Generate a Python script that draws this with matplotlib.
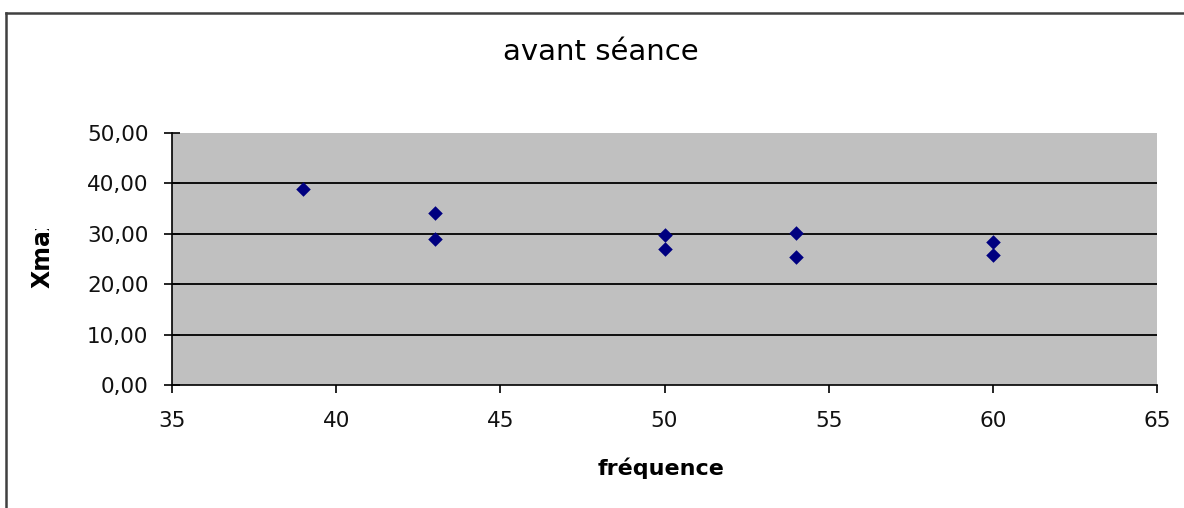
import matplotlib
matplotlib.use("Agg")
import matplotlib.pyplot as plt
from matplotlib.lines import Line2D
from matplotlib.transforms import Bbox, TransformedBbox
from matplotlib.ticker import FuncFormatter, MultipleLocator

# Data
frequence = [39, 43, 43, 50, 50, 54, 54, 60, 60]
xmax = [38.8, 34.1, 28.9, 29.8, 26.9, 30.1, 25.3, 28.4, 25.8]
title = "avant séance"
xlabel = "fréquence"
ylabel = "Xmax"

W, H = 1184, 508
fig = plt.figure(figsize=(W / 100, H / 100), dpi=100)
fig.patch.set_facecolor("white")

def fx(px):
    return px / W

def fy(py):
    return (H - py) / H

ax = fig.add_axes([fx(172), fy(385), fx(1157) - fx(172), fy(133) - fy(385)])
ax.set_facecolor("#C0C0C0")
ax.scatter(frequence, xmax, marker="D", s=55, color="#000080", zorder=3, linewidths=0)

ax.set_xlim(35, 65)
ax.set_ylim(0, 50)
ax.xaxis.set_major_locator(MultipleLocator(5))
ax.yaxis.set_major_locator(MultipleLocator(10))
ax.yaxis.set_major_formatter(FuncFormatter(lambda v, p: f"{v:.2f}".replace(".", ",")))

for v in [10, 20, 30, 40]:
    ax.axhline(v, color="black", lw=1.3, zorder=1)

for s in ["top", "right"]:
    ax.spines[s].set_visible(False)
for s in ["left", "bottom"]:
    ax.spines[s].set_color("black")
    ax.spines[s].set_linewidth(1.2)

ax.tick_params(axis="x", direction="out", length=6, width=1.2, color="black",
               labelsize=15.5, pad=13, labelcolor="#111111")
ax.tick_params(axis="y", direction="inout", length=12, width=1.2, color="black",
               labelsize=15.5, pad=11, labelcolor="#111111")
for lab in ax.get_xticklabels() + ax.get_yticklabels():
    lab.set_family("DejaVu Sans")

fig.text(fx(601), fy(52), title, ha="center", va="center", fontsize=21,
         family="DejaVu Sans", color="black")
fig.text(fx(661), fy(468), xlabel, ha="center", va="center", fontsize=16,
         fontweight="bold", family="DejaVu Sans", color="black")
yl = fig.text(fx(43), fy(288), ylabel, ha="center", va="bottom", rotation=90,
              fontsize=17, fontweight="bold", family="DejaVu Sans", color="black")
yl.set_clip_box(TransformedBbox(Bbox([[fx(20), fy(500)], [fx(70), fy(229)]]), fig.transFigure))
yl.set_clip_on(True)

# figure frame (top and left)
fig.add_artist(Line2D([fx(6), fx(W + 5)], [fy(13), fy(13)], transform=fig.transFigure,
                      color="#404040", lw=1.8))
fig.add_artist(Line2D([fx(6), fx(6)], [fy(13), fy(H + 5)], transform=fig.transFigure,
                      color="#404040", lw=1.8))

fig.savefig("out.png", dpi=100)
